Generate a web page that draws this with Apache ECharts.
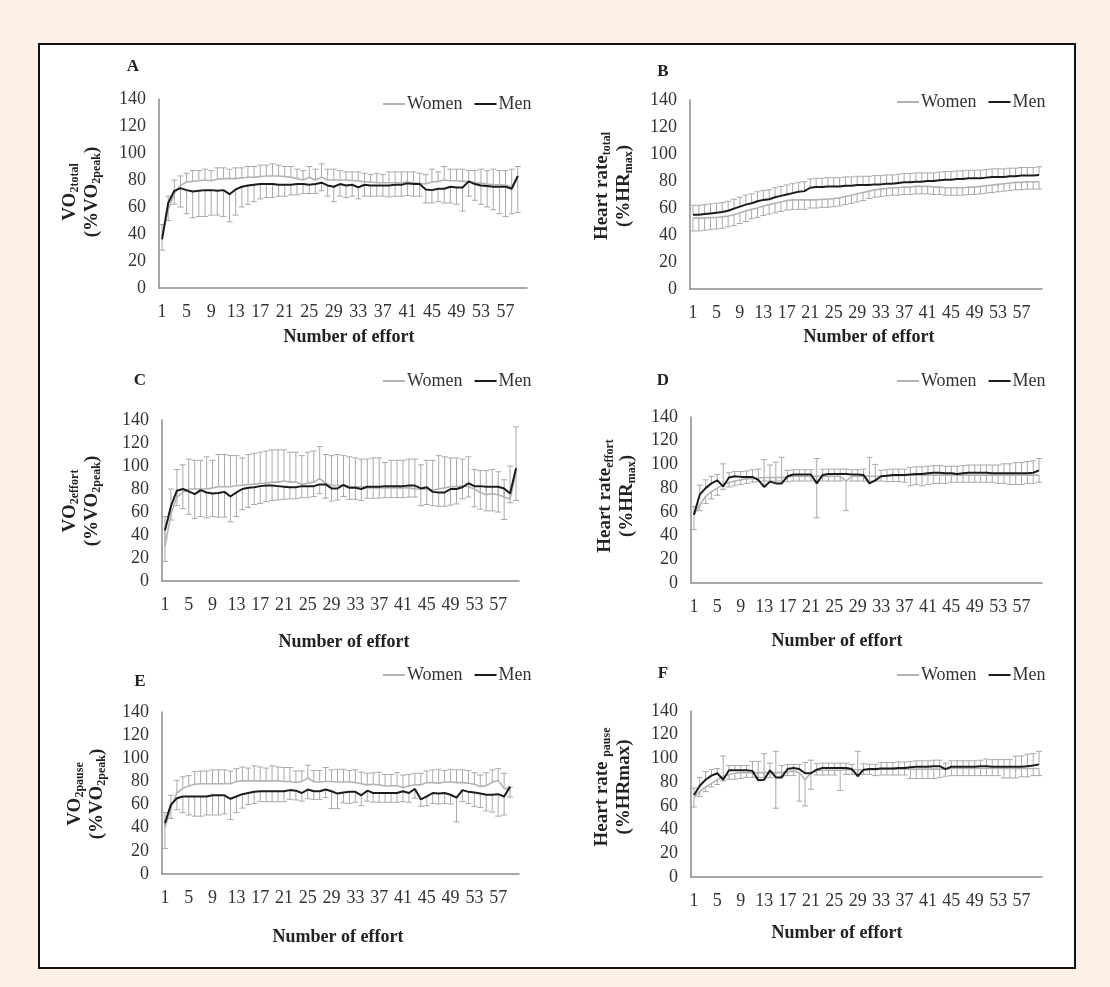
<!DOCTYPE html>
<html>
<head>
<meta charset="utf-8">
<script src="https://cdn.jsdelivr.net/npm/echarts@6/dist/echarts.min.js"></script>
<style>
  html, body { margin: 0; padding: 0; background: #fdf0e6; }
  #main { width: 1110px; height: 987px; }
</style>
</head>
<body>
<div id="main"></div>
<script>
// x categories: number of effort 1..60
var efforts = [];
for (var n = 1; n <= 60; n++) efforts.push(String(n));

// A - VO2 total (%VO2peak)
var vo2TotalWomen = [38,58,70,76,78.5,79,79.5,80,79.5,80.5, 81,81,81,81.5,82,82,82.5,83,83,83, 82.5,82,81,80,82,80,82,80,80,80, 80,79.5,79.5,78.5,78.5,78,78,78,78,78, 78.5,78,77.5,77,78.5,79,80,79.5,79.5,79, 79,78,77.5,77,76.5,76.5,76,75,82];
var vo2TotalWomenSD = [9,10,10,7,6.5,8,7.5,8,7.5,8.5, 8,7,8,7.5,8,8,8.5,8,9,8, 7.5,8,7,7,8,8,10,8,8,7, 6,6.5,6.5,6.5,5.5,7,6,8,8,8, 7.5,8,7.5,7,9.5,7,10,8.5,8.5,9, 8,9,10.5,10,11.5,10.5,11,13,8];
var vo2TotalMen = [36,63,72,74,72.5,71.5,72,72.5,72.5,72, 72.5,69.5,73,75,76,76.5,77,77,77,76.5, 76.5,76.5,77,77,76.5,77,78,76,75,77, 76,76.5,74.5,76.5,76,76,76,76,76.5,76.5, 77.5,77,77,73,72.5,73.5,73.5,75,74.5,74.5, 79,77,76,75.5,75,75,75,73.5,83];
var vo2TotalMenSD = [8,13,10,14,17.5,19.5,19,19.5,18.5,18, 19.5,20.5,19,15,14,12.5,11,10,10,8.5, 8.5,7.5,8,7,6.5,7,6,8,11,9, 9,8.5,8.5,8.5,8,8,8,8.5,8.5,8.5, 9,9,9,10,9.5,9.5,10.5,12,12.5,17.5, 11,12,14,15.5,17,20,22,18.5,27];

// B - Heart rate total (%HRmax)
var hrTotalWomen = [52.5,52.5,52.5,53,53,53.5,54,55,56.5,58, 59,60,61.5,62.5,63.5,64.5,65.5,66,66,66, 66,66,66.5,66.5,67,67.5,68.5,69.5,70.5,71.5, 72.5,73.5,74,74.5,75,75,75.5,75.5,76,76, 76,75.5,75.5,75,75,75,75,75.5,75.5,76, 76.5,77,77.5,78,78.5,79,79,79.5,79.5,79.5];
var hrTotalWomenSD = [9.5,9.5,9,9,8.5,8.5,8,8,8,8, 7,7,7,7,7,7,7,7,7,7, 6,6,6,6,6,6,6,6,6,6, 5.5,5.5,5.5,5.5,5.5,5.5,5.5,5.5,5.5,5.5, 5.5,5.5,5.5,5.5,5.5,5.5,5.5,5.5,5.5,5.5, 5.5,5.5,5.5,5.5,5.5,5.5,5.5,5.5,5.5,5.5];
var hrTotalMen = [55,55,55.5,56,56.5,57,58,59.5,61,62.5, 63.5,65,66,66.5,68,69,70,71,72,72.5, 75,75.5,75.5,76,76,76,76.5,76.5,77,77, 77,77.5,77.5,78,78,78.5,79,79,79.5,79.5, 80,80,80.5,81,81,81.5,81.5,82,82,82, 82.5,83,83,83,83.5,83.5,84,84,84,84.5];
var hrTotalMenSD = [7,7,7,7,7,7,7,7,7,7, 7,7,7,7,7,7,7,7,7,7, 6.5,6.5,6.5,6.5,6.5,6.5,6.5,6.5,6.5,6.5, 6.5,6.5,6.5,6.5,6.5,6.5,6.5,6.5,6.5,6.5, 6,6,6,6,6,6,6,6,6,6, 6,6,6,6,6,6,6,6,6,6];

// C - VO2 effort (%VO2peak)
var vo2EffortWomen = [30,58,73,77,80,80,80,80,81,82, 82,82,83,83,84,84,85,85,86,86, 87,86,86,84,85,86,89,85,83,83, 83,82,82,82,81,81,81,81,81,81, 81,81,80,80,80,79,80,81,82,82, 83,82,80,77,75,76,75,73,71,95];
var vo2EffortWomenSD = [26,22,24,24,26,25,25,28,24,28, 28,27,26,24,26,27,27,28,28,28, 27,26,26,25,27,27,28,25,26,27, 26,26,25,24,25,26,26,22,24,24, 24,25,26,21,25,26,29,27,25,25, 23,26,17,19,21,21,20,15,29,39];
var vo2EffortMen = [44,65,78.5,80,78,75.5,79,77,76,76.5, 77.5,73.5,77,80,81,81.5,82.5,83,83,82.5, 82,81.5,81.5,82.5,82.5,82.5,84,84,80.5,80.5, 83.5,81,81,80,82,82,82,82.5,82.5,82.5, 82.5,83,83,80.5,81.5,77.5,77,77,80,80, 81.5,85,82.5,82.5,82,82,82,80.5,76,98];
var vo2EffortMenSD = [27,12,13,17,20,21,23,22,20,21, 22,22,21,18,17,15,15,14,13,12, 11,10,10,10,10,9,8,12,11,10, 10,10,10,10,10,10,10,10,10,10, 10,10,10,15,15,12,12,12,14,13, 10,12,18,20,21,21,22,27,8,28];

// D - Heart rate effort (%HRmax)
var hrEffortWomen = [57,66,73,77,80,83,85,86,87,88, 88,88.5,89,89,89,89,89.5,90,90,90, 90,90,90,90,90,90,86,90,90,90, 90,90,90,90.5,90.5,90.5,91,91,91,91, 91,91,91,91,91,91,91,91,91,91, 91,91,91,91,91,91,91,91,91,91];
var hrEffortWomenSD = [12,5,6,6,6,4,4,4,4,4, 3,3,3,3,3,3,4,4,4,4, 4,35,4,4,4,4,25,4,4,4, 4,4,4,5,5,5,6,9,8,9, 8,7,7,7,6,6,6,6,6,6, 6,6,7,7,8,8,8,7,7,6];
var hrEffortMen = [57.5,74.5,80,84,86.5,81.5,89,90,89.5,89.5, 89.5,87,81,85.5,84,84,90,91.5,91.5,91.5, 91.5,84,91,92,92,92,92,91.5,91.5,91, 84,86.5,90,90.5,91,91,91,91.5,92,92, 92.5,93,93,92.5,92.5,92,92.5,93,93,93, 93,92.5,92.5,92.5,92.5,92.5,92.5,92.5,93,95];
var hrEffortMenSD = [7,8,7,6,5,19,4,4,4.5,5, 6,9,23,14,18,22,5,4,4,4, 4,21,5,4,4,4,4,4,4,5, 22,13.5,5,5,5,5,5,6,6,6, 6,6,6,6,6,6.5,6.5,6.5,6.5,6.5, 6.5,7,7,8,8,9,9,10,10,10];

// E - VO2 pause (%VO2peak)
var vo2PauseWomen = [40,57,70,74,76,77.5,78,78,78,78, 78,78,80,80.5,80.5,80.5,80.5,80.5,80.5,80.5, 80,80,79,80,83,79.5,79.5,80,80,79.5, 79.5,79.5,79,78,77,77.5,77,76,76,76.5, 74.5,76,77,77,79,79,78.5,79.5,79.5,79, 79,78.5,77.5,75.5,76.5,79,81,74,73];
var vo2PauseWomenSD = [13,11,11,10,9,11,11,11,12,12, 12,11,11,12,11,13,12,11,13,12, 12,12,10,9,11,10,10,12,10,11, 11,10,11,10,10,10,11,10,10,11, 11,10,10,10,10,11,12,10,11,11, 11,11,10,10,11,11,10,13,2];
var vo2PauseMen = [44,60,65.5,67,67,67,67,67,68,68, 68,65,67,69,70,71,71.5,71.5,71.5,71.5, 71.5,72.5,72,70,73,71.5,71.5,73,71.5,69.5, 70.5,71,71,68,72,70,70,70,70,70, 71.5,70,73.5,64.5,67,70,69.5,70,68.5,66, 72.5,71,70.5,69.5,68.5,68.5,69,67,75.5];
var vo2PauseMenSD = [22,12,10,14,16,17,17,16,17,17, 16,18,14,12,10,10,9,9,9,9, 9,8,8,7,8,7,7,7,15,13, 9,10,9,9,9,8,8,8,8,8, 9,8,8,6,8,9,9,9,8,21, 10,10,12,12,14,15,19,16,9];

// F - Heart rate pause (%HRmax)
var hrPauseWomen = [67,72,76,79,82,85,86.5,87.5,88,88, 88,88,88,88,88,88,88.5,89.5,88,82, 88,90,90,90,90,90,90.5,90.5,90.5,90.5, 90.5,90.5,91,91,91,91,91,91,91,91, 91,91,91,91,91.5,91.5,91.5,91.5,91.5,91.5, 91.5,91.5,91.5,91.5,91.5,91.5,91.5,91.5,91.5,91.5];
var hrPauseWomenSD = [8,4,4,3,4,4,4,5,5,4, 4,4,4,4,30,3,3,4,24,22, 14,4,4,4,4,17,4,4,4,4, 4,5,5,5,5,5,5,8,8,8, 8,8,7,6,6,6,6,6,6,6, 6,6,6,8,8,8,7,7,6,6];
var hrPauseMen = [69,77,82,85.5,87.5,82,90,90,90,90, 89.5,81.5,82,90,84,84,91,92,91,87.5, 87.5,90.5,92,92,92,92,92,91,85,90.5, 91,91,91.5,91.5,91.5,92,92,92.5,93,93, 93,93.5,93.5,91,93,93,93,93,93,93.5, 93.5,93,93,93,93,93,93,93.5,94,95];
var hrPauseMenSD = [6,7,7,5,4,20,4,4,4,4, 8,16,22,6,22,10,4,3,4,9, 11,5,4,4,4,4,4,4,21,5, 4,4,5,5,5,5,5,5,5,5, 5,5,5,5,5,5,5,5,5,5, 6,6,6,6,6,9,9,10,10,11];

var serif = "'Times New Roman', 'Liberation Serif', serif";

// layout of the 6 panels (plot box in px), error bar direction for each sex
var panels = [
  {letter: 'A', box: [159, 99, 368, 189], w: vo2TotalWomen, wsd: vo2TotalWomenSD, m: vo2TotalMen, msd: vo2TotalMenSD, wdir: 1, mdir: -1,
   legend: [383, 95], let: [133, 67], xt: [349, 337], yt: [81, 192], ytxt: '{b|VO}{s|2total}\n{b|(%VO}{s|2peak}{b|)}'},
  {letter: 'B', box: [690, 100, 352, 189], w: hrTotalWomen, wsd: hrTotalWomenSD, m: hrTotalMen, msd: hrTotalMenSD, wdir: -1, mdir: 1,
   legend: [897, 93], let: [663, 72], xt: [869, 337], yt: [613, 186], ytxt: '{b|Heart rate}{s|total}\n{b|(%HR}{s|max}{b|)}'},
  {letter: 'C', box: [162, 420, 357, 161], w: vo2EffortWomen, wsd: vo2EffortWomenSD, m: vo2EffortMen, msd: vo2EffortMenSD, wdir: 1, mdir: -1,
   legend: [383, 372], let: [140, 381], xt: [344, 642], yt: [81, 501], ytxt: '{b|VO}{s|2effort}\n{b|(%VO}{s|2peak}{b|)}'},
  {letter: 'D', box: [691, 417, 351, 166], w: hrEffortWomen, wsd: hrEffortWomenSD, m: hrEffortMen, msd: hrEffortMenSD, wdir: -1, mdir: 1,
   legend: [897, 372], let: [663, 381], xt: [837, 641], yt: [616, 496], ytxt: '{b|Heart rate}{s|effort}\n{b|(%HR}{s|max}{b|)}'},
  {letter: 'E', box: [162, 712, 357, 162], w: vo2PauseWomen, wsd: vo2PauseWomenSD, m: vo2PauseMen, msd: vo2PauseMenSD, wdir: 1, mdir: -1,
   legend: [383, 666], let: [140, 682], xt: [338, 937], yt: [86, 794], ytxt: '{b|VO}{s|2pause}\n{b|(%VO}{s|2peak}{b|)}'},
  {letter: 'F', box: [691, 711, 351, 166], w: hrPauseWomen, wsd: hrPauseWomenSD, m: hrPauseMen, msd: hrPauseMenSD, wdir: -1, mdir: 1,
   legend: [897, 666], let: [663, 674], xt: [837, 933], yt: [613, 787], ytxt: '{b|Heart rate }{s|pause}\n{b|(%HRmax)}'}
];

// one-sided error bar: line from the mean to mean +/- SD with a cap at the end
function renderBar(params, api) {
  var from = api.coord([api.value(0), api.value(1)]);
  var to = api.coord([api.value(0), api.value(2)]);
  var st = {stroke: '#a8a8a8', lineWidth: 1};
  return {
    type: 'group',
    children: [
      {type: 'line', shape: {x1: from[0], y1: from[1], x2: to[0], y2: to[1]}, style: st},
      {type: 'line', shape: {x1: to[0] - 3, y1: to[1], x2: to[0] + 3, y2: to[1]}, style: st}
    ]
  };
}

function barData(vals, sd, dir) {
  return vals.map(function (v, i) { return [i, v, v + dir * sd[i]]; });
}

var grids = [], xAxes = [], yAxes = [], series = [], legends = [];
var graphics = [{
  type: 'rect', z: -1,
  shape: {x: 39, y: 44, width: 1036, height: 924},
  style: {fill: '#ffffff', stroke: '#111111', lineWidth: 2}
}];

panels.forEach(function (p, k) {
  grids.push({left: p.box[0], top: p.box[1], width: p.box[2], height: p.box[3]});
  xAxes.push({
    type: 'category', gridIndex: k, data: efforts, boundaryGap: true,
    axisTick: {show: false},
    axisLine: {lineStyle: {color: '#8a8a8a', width: 1.5}},
    axisLabel: {interval: 3, margin: 15, fontSize: 18, color: '#333', fontFamily: serif}
  });
  yAxes.push({
    type: 'value', gridIndex: k, min: 0, max: 140, interval: 20,
    splitLine: {show: false}, axisTick: {show: false},
    axisLine: {show: true, lineStyle: {color: '#8a8a8a', width: 1.5}},
    axisLabel: {margin: 13, fontSize: 18, color: '#333', fontFamily: serif}
  });
  series.push(
    {type: 'custom', name: 'Women SD', xAxisIndex: k, yAxisIndex: k, z: 1, silent: true,
     renderItem: renderBar, encode: {x: 0, y: [1, 2]}, data: barData(p.w, p.wsd, p.wdir)},
    {type: 'custom', name: 'Men SD', xAxisIndex: k, yAxisIndex: k, z: 1, silent: true,
     renderItem: renderBar, encode: {x: 0, y: [1, 2]}, data: barData(p.m, p.msd, p.mdir)},
    {type: 'line', name: 'Women', xAxisIndex: k, yAxisIndex: k, z: 3, data: p.w,
     showSymbol: false, color: '#b3b3b3', lineStyle: {color: '#b3b3b3', width: 1.6}},
    {type: 'line', name: 'Men', xAxisIndex: k, yAxisIndex: k, z: 4, data: p.m,
     showSymbol: false, color: '#1c1c1c', lineStyle: {color: '#1c1c1c', width: 2}}
  );
  legends.push({
    data: ['Women', 'Men'], left: p.legend[0], top: p.legend[1], padding: 0,
    icon: 'rect', itemWidth: 22, itemHeight: 2, itemGap: 12,
    textStyle: {fontSize: 18, color: '#333', fontFamily: serif, padding: [0, 0, 0, -3]}
  });
  graphics.push(
    {type: 'text', x: p.let[0], y: p.let[1], z: 10,
     style: {text: p.letter, font: 'bold 17px ' + serif, fill: '#222', align: 'center', verticalAlign: 'middle'}},
    {type: 'text', x: p.xt[0], y: p.xt[1], z: 10,
     style: {text: 'Number of effort', font: 'bold 18px ' + serif, fill: '#222', align: 'center', verticalAlign: 'middle'}},
    {type: 'text', x: p.yt[0], y: p.yt[1], z: 10, rotation: Math.PI / 2,
     style: {
       text: p.ytxt, align: 'center', verticalAlign: 'middle', fill: '#222',
       rich: {
         b: {fontFamily: serif, fontSize: 19, fontWeight: 'bold', lineHeight: 22, fill: '#222'},
         s: {fontFamily: serif, fontSize: 12, fontWeight: 'bold', lineHeight: 13, verticalAlign: 'bottom', fill: '#222'}
       }
     }}
  );
});

var myChart = echarts.init(document.getElementById('main'));
myChart.setOption({
  backgroundColor: '#fdf0e6',
  animation: false,
  grid: grids,
  xAxis: xAxes,
  yAxis: yAxes,
  legend: legends,
  graphic: graphics,
  series: series
});
</script>
</body>
</html>
